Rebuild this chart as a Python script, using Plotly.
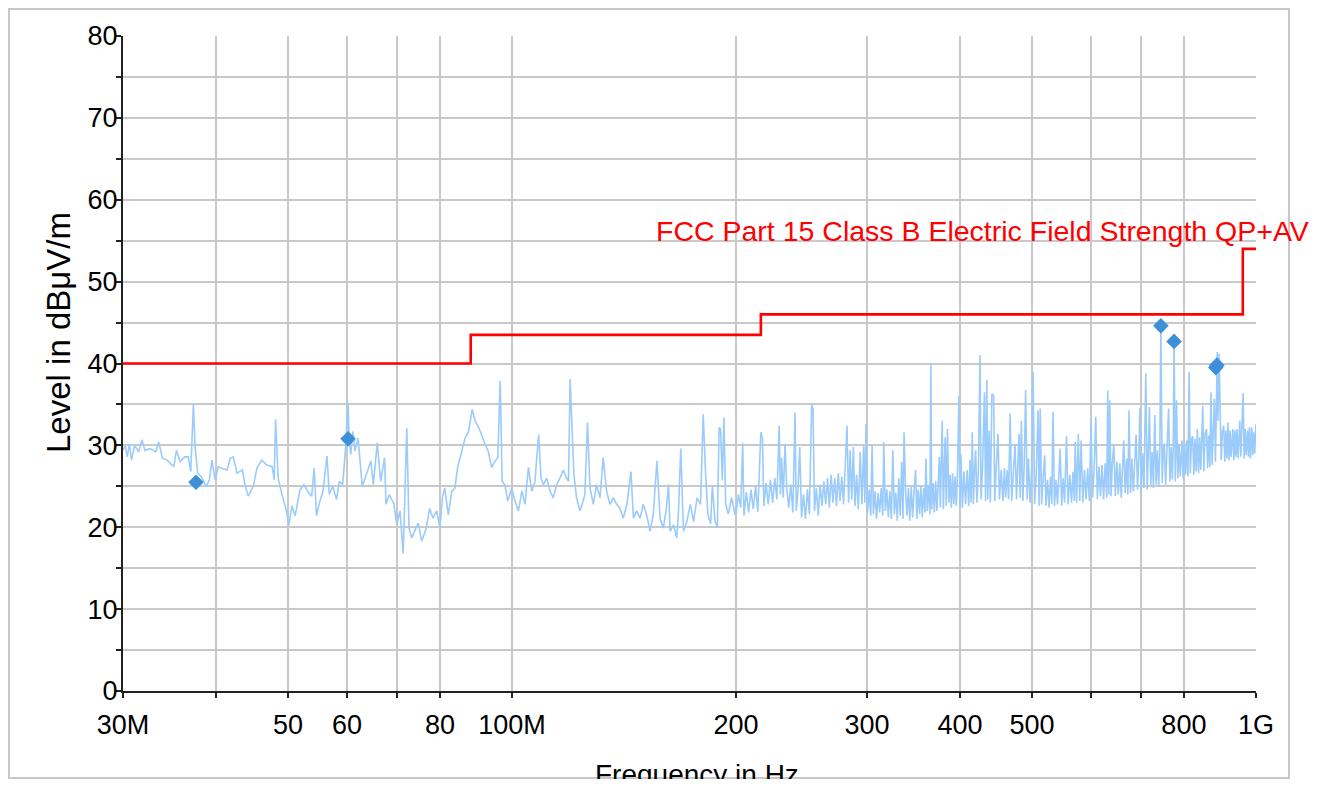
import plotly.graph_objects as go

# ---------------- data (MHz, dBuV/m) ----------------
freq_low_mhz = [
    30.0, 30.2, 30.4, 30.6, 30.8, 31.1, 31.5, 31.8, 32.1, 32.6, 33.2, 33.5, 33.9, 34.4, 35.1, 35.4,
    35.8, 36.3, 36.7, 37.0, 37.3, 37.5, 37.8, 38.2, 38.8, 39.2, 39.5, 39.9, 40.3, 40.7, 41.4, 41.8,
    42.2, 42.7, 43.4, 43.8, 44.2, 44.9, 45.4, 46.1, 46.8, 47.6, 47.9, 48.1, 48.5, 49.0, 49.8, 50.1,
    50.6, 51.1, 51.9, 52.5, 53.3, 53.8, 54.2, 54.6, 55.1, 55.7, 56.4, 56.8, 57.4, 58.1, 58.6, 59.2,
    59.7, 60.0, 60.2, 60.4, 60.7, 61.1, 61.5, 62.1, 62.4, 62.9, 63.9, 64.6, 65.1, 65.9, 66.6, 67.4,
    67.7, 68.4, 69.4, 70.0, 70.7, 71.4, 72.2, 72.7, 73.3, 74.0, 74.8, 75.6, 76.7, 77.5, 78.3, 79.2,
    80.0, 80.6, 81.2, 82.1, 83.0, 83.8, 84.5, 85.6, 86.5, 87.4, 88.4, 89.2, 90.1, 91.0, 92.0, 92.9,
    93.9, 94.9, 95.7, 96.4, 97.0, 97.8, 98.7, 99.9,
]
level_low = [
    29.4, 30.0, 28.6, 30.2, 28.2, 30.0, 29.2, 30.7, 29.4, 29.6, 29.2, 30.4, 28.4, 28.2, 27.4, 29.4,
    28.0, 28.6, 28.6, 26.8, 35.0, 29.8, 26.6, 26.2, 25.0, 25.8, 28.2, 25.8, 27.4, 27.2, 27.0, 28.4,
    28.6, 26.6, 27.0, 25.0, 23.8, 25.0, 27.2, 28.2, 27.6, 27.4, 25.8, 33.2, 26.0, 24.2, 21.8, 20.2,
    22.6, 21.4, 24.6, 25.2, 24.2, 23.8, 27.2, 21.4, 23.0, 24.4, 28.7, 24.0, 25.0, 23.4, 25.6, 25.2,
    29.3, 33.0, 35.2, 30.9, 28.9, 31.7, 29.3, 30.9, 28.5, 25.0, 26.8, 28.1, 25.2, 30.3, 25.6, 28.5,
    22.8, 24.0, 22.8, 20.3, 22.0, 16.8, 32.1, 19.9, 18.7, 19.5, 20.5, 18.3, 19.9, 22.3, 21.1, 22.0,
    19.9, 23.6, 24.8, 21.5, 24.4, 24.8, 27.3, 29.3, 30.9, 31.7, 34.4, 33.0, 32.3, 31.3, 30.1, 29.3,
    27.3, 28.1, 28.5, 37.9, 25.6, 25.2, 23.2, 24.8,
]

freq_mid_mhz = [
    100.9, 102.0, 103.1, 104.1, 105.2, 106.3, 107.4, 107.9, 108.6, 109.4, 110.2, 111.3, 112.5, 113.6,
    114.8, 116.0, 117.2, 118.4, 119.1, 119.7, 120.4, 121.1, 122.1, 123.4, 124.6, 125.3, 126.3, 127.3,
    128.6, 129.9, 131.3, 132.6, 134.0, 135.4, 136.8, 138.3, 139.7, 141.1, 142.7, 144.5, 145.6, 147.1,
    148.6, 150.1, 151.7, 153.3, 154.8, 156.6, 158.1, 159.7, 161.1, 162.3, 163.1, 164.8, 166.5, 167.4,
    168.6, 170.0, 171.8, 173.6, 175.4, 177.3, 179.2, 180.1, 180.7, 182.0, 183.3, 184.9, 185.9, 187.4,
    188.8, 189.8, 190.7, 191.7, 192.7, 193.7, 195.3, 197.3, 199.4,
]
level_mid = [
    23.2, 22.0, 24.4, 22.8, 27.3, 24.4, 25.6, 28.3, 31.3, 26.0, 25.2, 26.0, 24.4, 23.6,
    25.2, 26.0, 27.0, 26.0, 25.6, 38.1, 32.6, 26.5, 23.6, 22.0, 23.2, 24.0, 32.8, 24.8,
    22.8, 25.2, 23.6, 28.5, 24.4, 22.8, 23.6, 22.8, 22.3, 21.1, 22.8, 26.8, 21.1, 22.0,
    21.1, 22.8, 21.5, 19.5, 21.5, 28.1, 21.1, 19.9, 22.0, 25.2, 19.5, 20.3, 18.7, 22.0,
    29.6, 19.5, 20.7, 22.8, 20.7, 23.6, 22.8, 28.3, 33.8, 26.8, 21.6, 20.4, 25.1, 20.8,
    20.0, 32.2, 32.0, 25.7, 33.4, 22.8, 21.6, 23.6, 21.6,
]

freq_high_a_mhz = [
    200, 201.5, 203, 204.2, 205, 206.5, 208, 209.5, 211, 212.5, 214, 216, 217.1, 218, 219.5, 221,
    222.5, 224, 225.5, 227, 228.6, 229.5, 230.4, 231.5, 232.8, 234, 235.5, 237, 238.5, 240.1, 241,
    242.3, 243.6, 245, 246.5, 248, 249.5, 251, 252.8, 253.9, 255, 256.5, 258, 259.5, 261, 262.5,
    264, 265.5, 267, 268.5, 270, 271.5, 273, 274.5, 276, 277.5, 279, 280.5, 282, 283.4, 284.8,
    286.2, 287.6, 289, 290.5, 292, 293.8, 295.3, 296.9, 298, 299.1, 300.5, 302, 303.5, 304.8, 306,
    307.5, 309, 310.5, 312, 313.5, 315, 316, 317.5, 319, 320.5, 322, 323.5, 325, 326.5, 328, 329.5,
    331, 332.5, 334, 335.3, 336.5, 338, 339.5, 341, 342.5, 344, 345.5, 347, 348.7, 350, 351.5, 353,
    354.5, 356, 357.5, 359, 360, 361.5, 363, 364.5, 365.6, 366.5, 368, 369.5, 371, 372.5, 374,
    375.3, 376.5, 378.6, 380, 382, 383.4, 384.8, 386.5, 388, 389.5, 391, 392.5, 394, 395.5, 397,
    398.8,
]
level_high_a = [
    21.6, 24.0, 22.4, 30.3, 21.4, 24.3, 21.8, 24.6, 22.2, 25.0, 21.9, 31.6, 30.8, 22.6, 25.4, 22.8,
    25.8, 23.0, 26.0, 23.4, 32.4, 24.0, 28.5, 23.6, 30.2, 24.8, 22.4, 25.2, 21.8, 34.0, 22.0,
    24.4, 29.8, 21.2, 24.0, 21.0, 24.6, 21.6, 35.0, 34.4, 22.0, 24.8, 21.4, 25.2, 22.6, 25.6,
    22.8, 26.0, 22.4, 26.4, 23.0, 26.0, 22.6, 26.6, 23.2, 26.2, 22.8, 26.8, 32.4, 23.0, 29.4,
    23.4, 29.8, 22.6, 26.4, 22.2, 29.2, 22.8, 30.0, 23.0, 32.6, 21.8, 24.6, 21.4, 30.0, 21.6,
    24.4, 21.0, 24.2, 21.8, 24.8, 21.4, 30.4, 22.0, 24.6, 21.2, 24.4, 21.0, 29.4, 21.6, 24.2, 20.8,
    26.0, 21.4, 28.0, 21.0, 31.6, 24.6, 21.4, 24.8, 20.8, 25.0, 21.2, 24.4, 27.0, 21.0, 24.6, 21.6,
    25.0, 21.2, 24.8, 21.8, 28.4, 22.0, 25.2, 21.6, 40.0, 22.2, 25.4, 21.8, 25.6, 22.0, 25.2,
    28.6, 22.4, 33.0, 22.2, 31.0, 22.6, 32.0, 23.0, 26.4, 22.4, 26.6, 22.8, 26.2, 22.6, 26.8,
    36.1,
]

freq_high_b_mhz = [
    400, 401.2, 403, 405, 407, 409, 411, 412.6, 414, 415.6, 417, 418.5, 419.9, 421.5, 423.5, 425.6,
    427, 429, 431.5, 433, 434.7, 436, 437.9, 439.5, 441.6, 444, 445.5, 447.5, 450, 452, 454.5, 457,
    459, 460.7, 463, 465, 467.2, 469.5, 472, 474.4, 476.5, 478.5, 480.2, 482, 483.8, 486, 488,
    490.2, 492.5, 494.6, 497, 499.5, 501.6, 504, 506.5, 509.5, 511, 512.9, 515, 517.5, 519.9, 522,
    524.5, 527, 529.5, 531.5, 533.5, 536, 538.5, 541, 543, 545.4, 548, 550.5, 553, 556.2, 559, 562,
    565, 567.5, 570, 571.5, 574, 577, 579.5, 582, 585, 588, 591, 594, 597,
]
level_high_b = [
    22.6, 28.9, 22.4, 26.8, 22.8, 27.0, 22.6, 28.2, 23.0, 31.6, 22.8, 27.2, 29.4, 23.0, 27.0, 41.0,
    23.4, 27.4, 36.5, 23.2, 38.0, 23.4, 31.8, 23.0, 36.3, 36.1, 23.2, 27.2, 31.4, 23.4, 27.0, 23.2,
    27.2, 23.6, 27.0, 23.4, 33.9, 23.2, 27.2, 30.2, 23.4, 27.4, 31.4, 23.6, 33.0, 23.2, 27.4,
    36.8, 23.4, 28.4, 23.0, 27.2, 39.0, 22.8, 26.4, 34.3, 22.6, 34.5, 22.8, 26.0, 28.8, 22.6,
    25.8, 22.4, 26.2, 22.8, 34.1, 22.6, 25.8, 22.8, 26.2, 29.6, 22.6, 26.0, 23.0, 31.1, 22.8, 26.4,
    23.0, 26.8, 23.2, 30.4, 23.0, 31.4, 23.2, 30.6, 23.0, 27.0, 23.4, 27.2, 23.2,
]

freq_high_c_mhz = [
    600, 603, 606, 609, 612, 615, 618, 621, 624, 627, 630, 632, 634, 636, 638.5, 641, 644, 647, 650,
    653, 656, 659, 661.5, 664, 667, 670, 672.5, 675, 678, 681, 684, 687, 690, 693, 696, 698, 701,
    704, 707, 711, 714, 716.5, 719, 722, 725, 728, 731, 734, 737, 740, 742.5, 745, 748, 751, 753,
    756, 759.5, 763, 766, 769, 772, 774, 776, 779, 782, 785, 788, 791, 795, 798, 801, 804, 807, 810,
    813, 816, 819, 822, 825, 828, 831, 834, 837, 840, 843, 845.5, 848, 851, 854, 858, 861, 864, 867,
    870, 873, 876, 879, 882, 885, 887, 889, 892, 895, 898, 901, 905, 908, 911, 914, 917, 920, 923,
    926, 929, 931, 934, 937, 940, 943, 946, 949, 951, 954, 957, 961, 964, 967, 970, 974, 977, 980,
    983, 987, 990, 993, 996, 1000,
]
level_high_c = [
    32.8, 23.6, 27.2, 33.5, 23.4, 27.4, 23.8, 27.6, 23.4, 27.8, 23.6, 36.7, 24.0, 35.5, 23.8, 27.8,
    30.2, 23.8, 28.0, 24.0, 27.8, 23.6, 28.2, 30.6, 24.2, 28.4, 24.0, 34.3, 24.2, 28.4, 24.4, 28.6,
    31.3, 24.6, 28.8, 34.6, 24.4, 29.0, 24.8, 38.8, 24.6, 29.0, 34.7, 25.0, 29.2, 24.8, 33.7, 25.2,
    29.4, 25.0, 29.2, 44.6, 25.4, 29.6, 30.2, 25.2, 29.8, 34.5, 25.6, 29.8, 25.8, 30.0, 42.7, 25.6,
    35.5, 26.0, 30.2, 26.2, 30.6, 26.0, 30.4, 26.4, 30.6, 26.2, 39.0, 26.6, 30.8, 31.1, 26.4, 30.8,
    26.8, 32.0, 26.6, 31.0, 27.0, 31.2, 34.8, 26.8, 31.4, 32.0, 27.2, 31.2, 27.4, 36.5, 27.6, 31.6,
    35.7, 28.0, 38.0, 41.4, 33.0, 41.2, 34.3, 28.2, 31.6, 32.4, 28.0, 31.8, 28.4, 32.8, 28.2, 31.8,
    28.6, 31.6, 32.0, 28.2, 31.8, 28.6, 32.0, 28.4, 31.8, 33.0, 28.6, 31.6, 36.4, 28.4, 32.0, 28.8,
    31.8, 28.6, 32.2, 28.4, 32.2, 28.8, 31.6, 29.0, 32.6,
]

# final (peak) measurement points
peak_freq_mhz = [37.6, 60.2, 745.0, 776.0, 883.0, 886.0]
peak_level = [25.5, 30.8, 44.6, 42.7, 39.5, 39.8]

# FCC Part 15 Class B limit
limit_freq_mhz = [30, 88, 88, 216, 216, 960, 960, 1000]
limit_level = [40, 40, 43.5, 43.5, 46, 46, 54, 54]
limit_name = "FCC Part 15 Class B Electric Field Strength QP+AV"

# axis ticks
x_tick_mhz = [30, 40, 50, 60, 70, 80, 100, 200, 300, 400, 500, 600, 700, 800, 1000]
x_tick_text = ["30M", "", "50", "60", "", "80", "100M", "200", "300", "400", "500", "", "", "800", "1G"]
y_tick_vals = [0, 5, 10, 15, 20, 25, 30, 35, 40, 45, 50, 55, 60, 65, 70, 75, 80]
y_tick_text = ["0", "", "10", "", "20", "", "30", "", "40", "", "50", "", "60", "", "70", "", "80"]

# ---------------- figure ----------------
spec_f = freq_low_mhz + freq_mid_mhz + freq_high_a_mhz + freq_high_b_mhz + freq_high_c_mhz
spec_l = level_low + level_mid + level_high_a + level_high_b + level_high_c

FONT = "Liberation Sans, Arial, sans-serif"
OFF = 8  # page body margin
W, H = 1309, 771
L, T = 123 - OFF, 36 - OFF
R = W - (1256 - OFF)
B = H - (691 - OFF)

fig = go.Figure()
fig.add_trace(go.Scatter(
    x=[f * 1e6 for f in spec_f], y=spec_l, mode="lines",
    line=dict(color="#9ACBFB", width=1.6), hoverinfo="skip", showlegend=False))
fig.add_trace(go.Scatter(
    x=[f * 1e6 for f in limit_freq_mhz], y=limit_level, mode="lines",
    line=dict(color="#FF0000", width=2.6), showlegend=False))
fig.add_trace(go.Scatter(
    x=[f * 1e6 for f in peak_freq_mhz], y=peak_level, mode="markers",
    marker=dict(symbol="diamond", size=12, color="#3D8FDA"), showlegend=False))

# helpers: screen pixel -> paper fraction
def px_x(p):
    return (p - 123) / (1256 - 123)

def px_y(p):
    return (691 - p) / (691 - 36)

fig.update_layout(
    width=W, height=H,
    margin=dict(l=L, r=R, t=T, b=B, pad=0),
    paper_bgcolor="white", plot_bgcolor="white",
    font=dict(family=FONT, size=27, color="black"),
    xaxis=dict(
        type="log", range=[7.4771, 9.0],
        tickvals=[v * 1e6 for v in x_tick_mhz], ticktext=x_tick_text,
        showgrid=True, gridcolor="#C9C9C9", gridwidth=1.5,
        showline=True, linecolor="#222222", linewidth=2,
        ticks="outside", ticklen=5, tickwidth=2, tickcolor="#222222",
        ticklabelstandoff=4, zeroline=False,
        tickfont=dict(family=FONT, size=27, color="black"),
    ),
    yaxis=dict(
        range=[0, 80], tickvals=y_tick_vals, ticktext=y_tick_text,
        showgrid=True, gridcolor="#C9C9C9", gridwidth=1.5,
        showline=True, linecolor="#222222", linewidth=2,
        ticks="outside", ticklen=5, tickwidth=2, tickcolor="#222222",
        ticklabelstandoff=-7, zeroline=False,
        tickfont=dict(family=FONT, size=27, color="black"),
    ),
    shapes=[dict(
        type="rect", xref="paper", yref="paper",
        x0=px_x(9), x1=px_x(1289), y0=px_y(778), y1=px_y(9),
        line=dict(color="#C8C8C8", width=2), fillcolor="rgba(0,0,0,0)", layer="below")],
    annotations=[
        dict(text=limit_name, xref="paper", yref="y", x=px_x(1311), y=56.2,
             xanchor="right", yanchor="middle", showarrow=False,
             font=dict(family=FONT, size=28.5, color="#FF0000")),
        dict(text="Level in dBμV/m", xref="paper", yref="paper", x=px_x(58), y=px_y(333),
             xanchor="center", yanchor="middle", textangle=-90, showarrow=False,
             font=dict(family=FONT, size=33, color="black")),
        dict(text="Frequency in Hz", xref="paper", yref="paper", x=px_x(697), y=px_y(757),
             xanchor="center", yanchor="top", showarrow=False,
             font=dict(family=FONT, size=28, color="black")),
    ],
)

fig.write_html("out.html")
